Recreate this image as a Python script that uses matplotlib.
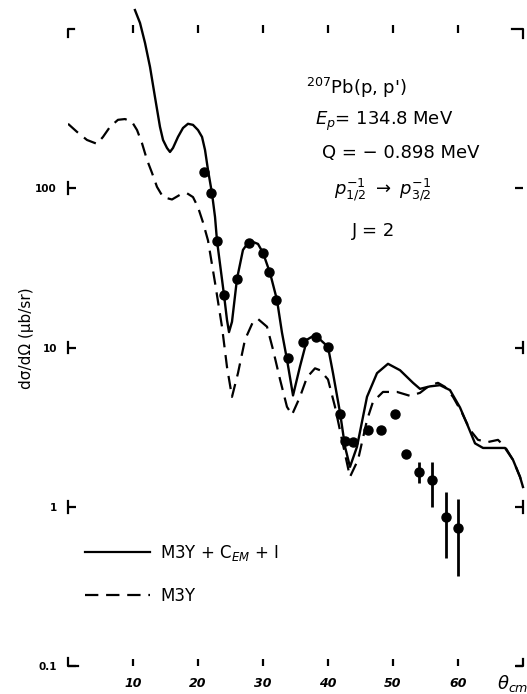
import numpy as np
import matplotlib.pyplot as plt
from matplotlib.lines import Line2D

# M3Y + C_EM + I (solid curve)
solid_theta = [10.3, 11.08, 11.85, 12.62, 13.38, 14.15, 14.62, 15.23, 15.69, 16.15,
               16.92, 17.69, 18.46, 19.23, 20.0, 20.62, 21.08, 21.54, 22.15, 22.62,
               22.92, 24.0, 24.46, 24.77, 25.23, 26.0, 26.92, 27.69, 28.46, 29.23,
               30.0, 31.08, 32.15, 32.92, 33.69, 34.62, 35.69, 36.77, 38.0, 40.0,
               40.77, 41.85, 42.62, 43.38, 44.46, 46.0, 47.54, 49.23, 51.08, 53.08,
               54.15, 55.69, 57.23, 58.77, 60.31, 61.54, 62.62, 63.85, 66.0, 67.23,
               68.46, 69.54, 70.0]
solid_xs = [1315, 1091, 817, 577, 374, 243, 201, 179, 169, 179,
            210, 239, 254, 250, 232, 210, 174, 130, 93, 66,
            47, 21.4, 14.9, 12.5, 14.5, 27, 41, 45.4, 46, 44.7,
            39.3, 29.4, 19.9, 12.4, 8.4, 5.0, 7.6, 11.2, 12.0, 10.1,
            6.9, 3.9, 2.38, 1.78, 2.38, 4.9, 6.9, 7.9, 7.2, 6.0,
            5.5, 5.7, 5.8, 5.4, 4.2, 3.2, 2.5, 2.34, 2.34, 2.34,
            1.97, 1.54, 1.33]

# M3Y (dashed curve)
dash_theta = [0.0, 1.38, 2.92, 4.46, 5.38, 6.46, 7.69, 8.77, 9.85, 10.62,
              11.38, 12.15, 12.92, 13.69, 14.62, 16.0, 17.23, 18.31, 19.23, 20.0,
              20.77, 21.54, 22.62, 23.69, 24.46, 25.23, 26.15, 27.23, 28.46, 29.23,
              30.62, 31.54, 32.62, 33.69, 34.46, 35.69, 36.77, 38.0, 38.77, 40.0,
              41.08, 42.15, 43.38, 44.62, 46.0, 46.92, 48.46, 50.62, 52.62, 54.15,
              55.69, 56.92, 58.0, 59.23, 60.62, 61.85, 63.08, 64.62, 66.15, 67.23,
              68.46, 69.54, 70.0]
dash_xs = [254, 226, 201, 190, 210, 243, 269, 272, 261, 232,
           192, 151, 125, 102, 88, 85, 91, 93, 88, 76,
           61, 47, 25.5, 13.5, 7.55, 4.9, 6.9, 11.2, 14.5, 15.1,
           13.5, 9.7, 6.3, 4.24, 3.78, 4.9, 6.5, 7.4, 7.2, 6.3,
           4.24, 2.63, 1.54, 1.97, 3.5, 4.56, 5.26, 5.26, 4.97, 5.19,
           5.8, 6.0, 5.66, 4.9, 3.88, 3.04, 2.63, 2.55, 2.63, 2.38,
           1.97, 1.54, 1.33]

# measured points
exp_theta = [20.9, 22.0, 22.9, 24.0, 26.0, 27.8, 30.0, 30.9, 32.0, 33.8,
             36.2, 38.2, 40.0, 41.8, 42.6, 43.8, 46.2, 48.2, 50.3, 52.0,
             54.0, 56.0, 58.2, 60.0]
exp_xs = [126, 93, 46.5, 21.4, 27, 45, 39, 30, 20, 8.6,
          10.8, 11.7, 10.1, 3.8, 2.6, 2.55, 3.04, 3.04, 3.8, 2.15,
          1.66, 1.48, 0.865, 0.74]
err_lo = [0, 0, 0, 0, 0, 0, 0, 0, 0, 0,
          0, 0, 0, 0, 0, 0, 0, 0, 0, 0,
          0.25, 0.48, 0.39, 0.37]
err_hi = [0, 0, 0, 0, 0, 0, 0, 0, 0, 0,
          0, 0, 0, 0, 0, 0, 0, 0, 0, 0,
          0.25, 0.43, 0.38, 0.38]

x_ticks = [10, 20, 30, 40, 50, 60]
y_ticks = [0.1, 1, 10, 100]
y_labels = ['0.1', '1', '10', '100']

W, H = 527, 694
def fp(x, y):
    return x / W, 1 - y / H

fig = plt.figure(figsize=(W / 100, H / 100), dpi=100)
ax = fig.add_axes([68 / W, 1 - 666 / H, 455 / W, 637 / H])
ax.set_yscale('log')
ax.set_xlim(0, 70)
ax.set_ylim(0.1, 1000)

ax.plot(solid_theta, solid_xs, color='black', lw=1.7, clip_on=False,
        solid_joinstyle='round')
ax.plot(dash_theta, dash_xs, color='black', lw=1.6, dashes=(6, 3.5))
ax.errorbar(exp_theta, exp_xs, yerr=[err_lo, err_hi], fmt='o', color='black',
            ms=6.5, elinewidth=2, capsize=0)

for s in ax.spines.values():
    s.set_visible(False)

# left / bottom ticks
ax.set_yticks(y_ticks)
ax.set_yticklabels(y_labels, fontsize=7.5, fontweight='bold')
ax.yaxis.set_minor_locator(plt.NullLocator())
ax.tick_params(axis='y', direction='in', length=6, width=1.6, right=True, pad=8)
ax.set_xticks(x_ticks)
ax.set_xticklabels([str(t) for t in x_ticks], fontsize=9, fontweight='bold',
                   fontstyle='italic')
ax.tick_params(axis='x', direction='in', length=5, width=1.6, pad=8)

top = ax.secondary_xaxis('top')
top.set_xticks(x_ticks)
top.set_xticklabels([])
top.tick_params(direction='inout', length=6, width=1.6)
top.spines['top'].set_visible(False)

# the little spine pieces next to the y ticks
ytr = ax.get_yaxis_transform()
for v in [1, 10, 100]:
    ax.plot([0, 0], [v / 1.09, v * 1.09], color='black', lw=1.6,
            transform=ytr, clip_on=False)
for v in [1, 10]:
    ax.plot([1, 1], [v / 1.09, v * 1.09], color='black', lw=1.6,
            transform=ytr, clip_on=False)

# corner marks
at = ax.transAxes
corner_kw = dict(color='black', lw=1.6, transform=at, clip_on=False)
ax.plot([0, 0, 0.013], [0.988, 1, 1], **corner_kw)
ax.plot([0, 0, 0.022], [0.012, 0, 0], **corner_kw)
ax.plot([0.976, 1, 1], [1, 1, 0.986], **corner_kw)
ax.plot([0.987, 1, 1], [0, 0, 0.011], **corner_kw)

# axis titles
fig.text(*fp(26, 338), 'dσ/dΩ (μb/sr)', rotation=90, ha='center', va='center',
         fontsize=11)
fig.text(*fp(497, 683), r'$\theta_{cm}$', ha='left', va='center', fontsize=13)

# reaction info
info_kw = dict(ha='left', va='center', fontsize=13)
fig.text(*fp(306, 88), "$^{207}$Pb(p, p')", **info_kw)
fig.text(*fp(315, 121), r'$E_p$= 134.8 MeV', **info_kw)
fig.text(*fp(322, 153), 'Q = \u2212 0.898 MeV', **info_kw)
fig.text(*fp(334, 190), r'$p_{1/2}^{-1}\ \rightarrow\ p_{3/2}^{-1}$', **info_kw)
fig.text(*fp(352, 231), 'J = 2', **info_kw)

# legend
leg_handles = [Line2D([], [], color='black', lw=1.6),
               Line2D([], [], color='black', lw=1.6, dashes=(6, 3.5))]
fig.legend(leg_handles, ['M3Y + C$_{EM}$ + I', 'M3Y'],
           loc='upper left', bbox_to_anchor=fp(70, 528), frameon=False,
           fontsize=12, handlelength=3.9, handletextpad=0.6, labelspacing=1.45)

fig.savefig('out.png', dpi=100)
